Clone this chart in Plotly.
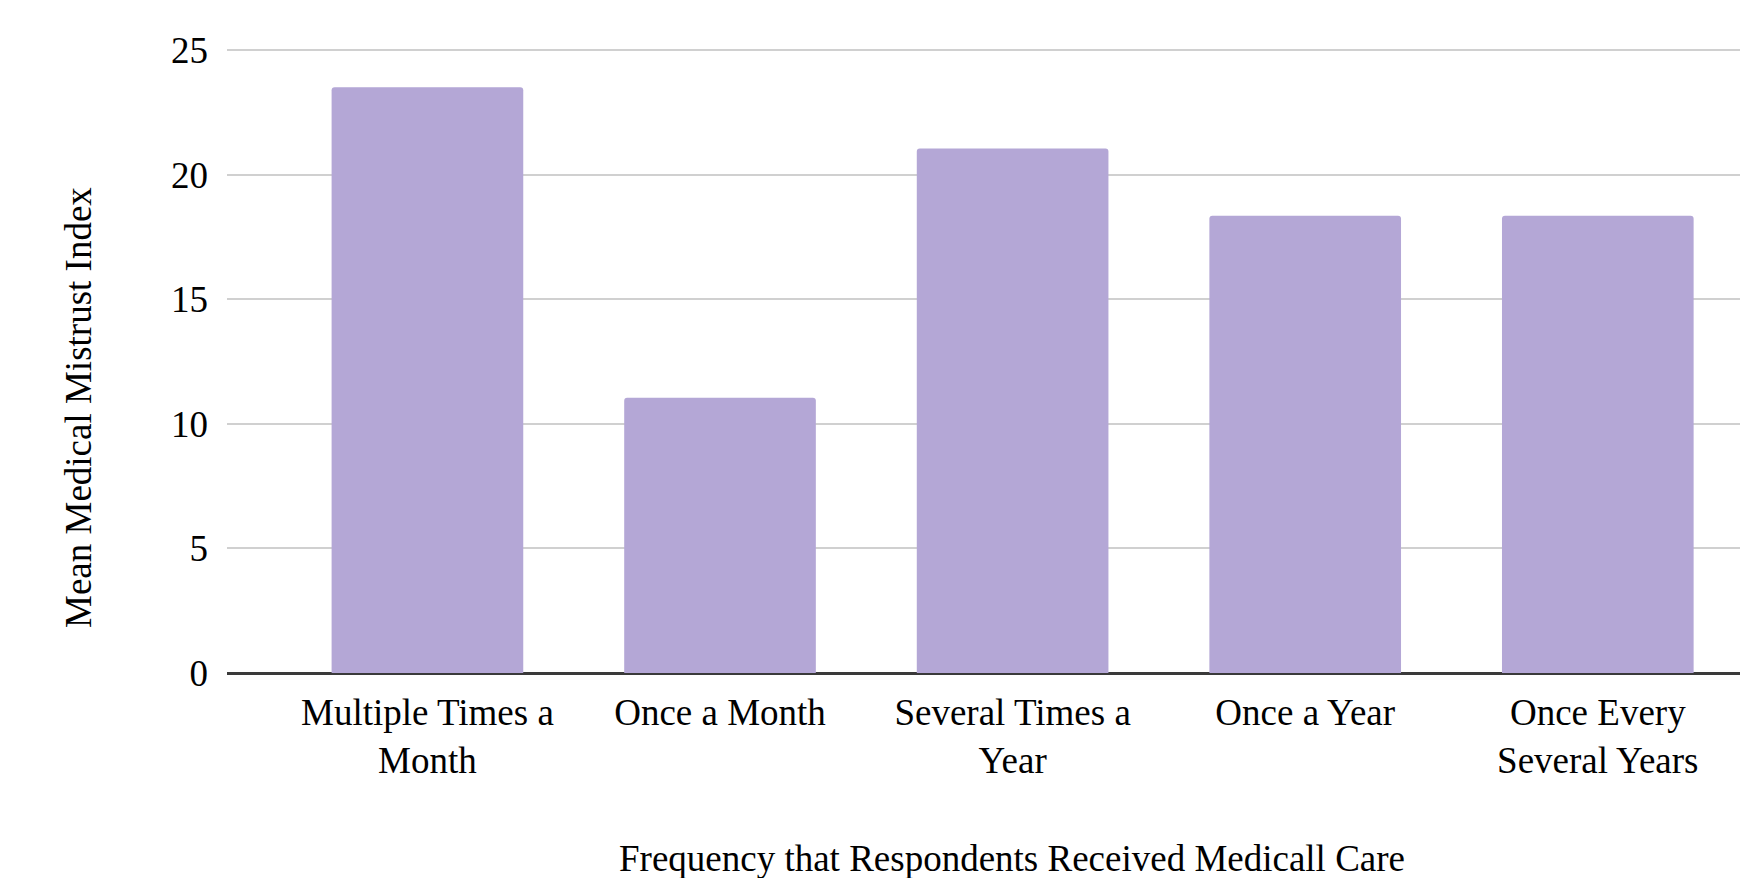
import plotly.graph_objects as go

# Mean medical mistrust index by how often respondents received medical care
categories = [
    "Multiple Times a<br>Month",
    "Once a Month",
    "Several Times a<br>Year",
    "Once a Year",
    "Once Every<br>Several Years",
]
mistrust_index = [23.5, 11.05, 21.05, 18.35, 18.35]
y_ticks = [0, 5, 10, 15, 20, 25]

x_title = "Frequency that Respondents Received Medicall Care"
y_title = "Mean Medical Mistrust Index"

W, H = 1740, 878
M_L, M_R, M_T, M_B = 227, 0, 48, 205
plot_w = W - M_L - M_R
plot_h = H - M_T - M_B


def px_to_paper_x(px):
    return (px - M_L) / plot_w


def px_to_paper_y(py):
    return (H - M_B - py) / plot_h


FONT = "Liberation Serif, Times New Roman, serif"
TXT = 37

fig = go.Figure(
    go.Bar(
        x=list(range(len(categories))),
        y=mistrust_index,
        marker=dict(color="#b4a7d6", line=dict(width=0), cornerradius=3),
        hoverinfo="skip",
    )
)

fig.update_layout(
    width=W,
    height=H,
    margin=dict(l=M_L, r=M_R, t=M_T, b=M_B, pad=0),
    paper_bgcolor="white",
    plot_bgcolor="white",
    bargap=0.345,
    showlegend=False,
    font=dict(family=FONT, size=TXT, color="#000000"),
    xaxis=dict(
        range=[-0.685, 4.486],
        tickmode="array",
        tickvals=list(range(len(categories))),
        ticktext=categories,
        showgrid=False,
        zeroline=False,
        showline=False,
        ticks="",
        ticklabelstandoff=14,
        tickfont=dict(family=FONT, size=TXT, color="#000000"),
    ),
    yaxis=dict(
        range=[0, 25.08],
        tickmode="array",
        tickvals=y_ticks,
        ticktext=[str(v) for v in y_ticks],
        showgrid=True,
        gridcolor="#d0d0d0",
        gridwidth=2,
        zeroline=True,
        zerolinecolor="#3a3a3a",
        zerolinewidth=2.5,
        showline=False,
        ticks="",
        ticklabelstandoff=18,
        tickfont=dict(family=FONT, size=TXT, color="#000000"),
    ),
    annotations=[
        dict(
            text=x_title,
            xref="paper",
            yref="paper",
            x=px_to_paper_x(1012),
            y=px_to_paper_y(858),
            xanchor="center",
            yanchor="middle",
            showarrow=False,
            font=dict(family=FONT, size=TXT, color="#000000"),
        ),
        dict(
            text=y_title,
            xref="paper",
            yref="paper",
            x=px_to_paper_x(78),
            y=px_to_paper_y(408),
            xanchor="center",
            yanchor="middle",
            textangle=-90,
            showarrow=False,
            font=dict(family=FONT, size=TXT, color="#000000"),
        ),
    ],
)

fig.write_html("out.html")
